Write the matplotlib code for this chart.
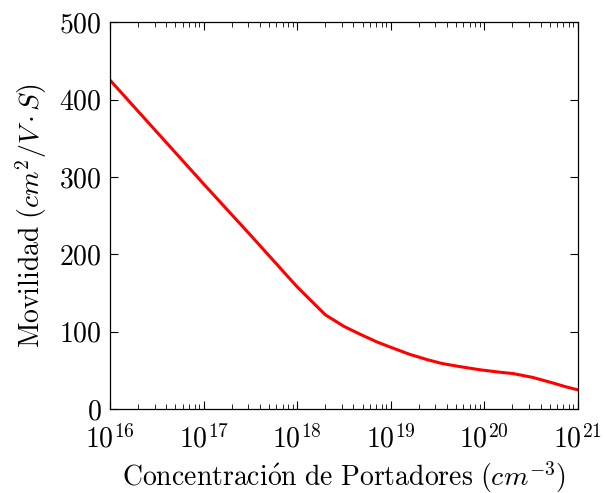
import numpy as np
import matplotlib
matplotlib.use('Agg')
import matplotlib.pyplot as plt

plt.rcParams['mathtext.fontset'] = 'cm'
plt.rcParams['font.family'] = 'serif'
plt.rcParams['font.serif'] = ['cmr10', 'DejaVu Serif']
plt.rcParams['axes.formatter.use_mathtext'] = True

# log10 of carrier concentration and mobility
log_n = [16.0, 16.5, 17.0, 17.5, 18.0, 18.3, 18.5, 18.67, 18.85, 19.0, 19.2, 19.39, 19.55, 19.74, 19.95, 20.15, 20.31, 20.52, 20.73, 20.87, 21.0]
mobility = [425, 358, 291, 225, 158, 122, 107, 97, 87, 80, 71, 64, 59, 55, 51, 48, 46, 41, 34, 29, 25]

conc = [10 ** v for v in log_n]

fig = plt.figure(figsize=(6.05, 4.93), dpi=100)
ax = fig.add_axes([0.182, 0.170, 0.773, 0.785])
ax.plot(conc, mobility, color='red', linewidth=2.2, solid_joinstyle='round')
ax.set_xscale('log')
ax.set_xlim(1e16, 1e21)
ax.set_ylim(0, 500)
ax.set_yticks([0, 100, 200, 300, 400, 500])
ax.tick_params(which='both', direction='in', top=True, right=True, labelsize=20)
ax.tick_params(which='major', length=6, width=0.8)
ax.tick_params(which='minor', length=3.5, width=0.6)
ax.tick_params(axis='x', pad=11)
ax.tick_params(axis='y', pad=6)
for s in ax.spines.values():
    s.set_linewidth(0.9)
ax.set_xlabel(r'$\mathrm{Concentraci\acute{o}n\ de\ Portadores}\ (cm^{-3})$', fontsize=20, labelpad=4)
ax.set_ylabel(r'$\mathrm{Movilidad}\ (cm^{2}/V\cdot S)$', fontsize=20, labelpad=7)
fig.savefig('out.png', dpi=100)
